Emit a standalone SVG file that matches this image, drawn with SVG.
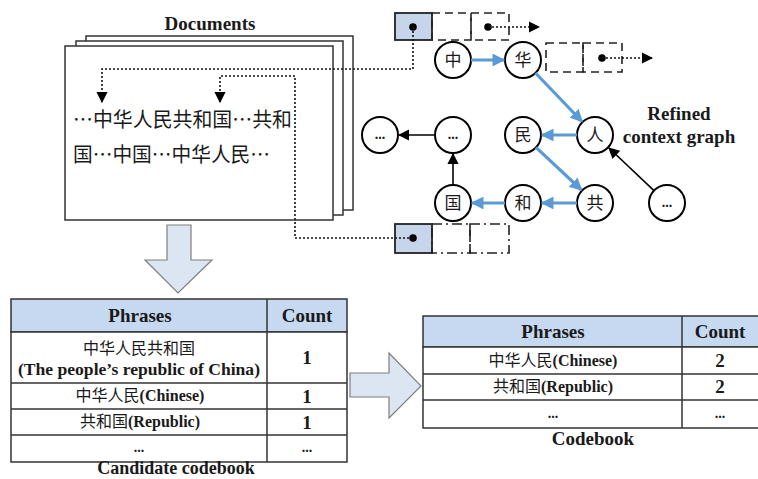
<svg xmlns="http://www.w3.org/2000/svg" width="758" height="479" viewBox="0 0 758 479">
<defs>
<style>
.lat{font-family:"Liberation Serif","Noto Sans CJK SC",serif;font-weight:bold;fill:#1a1a1a}
.cjk{font-family:"Noto Sans CJK SC",sans-serif;font-weight:normal;fill:#1a1a1a}
.page{fill:#fff;stroke:#333;stroke-width:1.5}
.dot{fill:none;stroke:#111;stroke-width:1.6;stroke-dasharray:2 2}
.node circle{fill:#fff;stroke:#000;stroke-width:2}
.blue{stroke:#5b9bd5;stroke-width:3.2;fill:none;marker-end:url(#ab)}
.blk{stroke:#000;stroke-width:1.6;fill:none;marker-end:url(#ak)}
.shade{fill:#c6d5ea;stroke:#222;stroke-width:1.8}
.dash{fill:none;stroke:#222;stroke-width:1.6;stroke-dasharray:8 5}
.dashdot{fill:none;stroke:#222;stroke-width:1.6;stroke-dasharray:10 4 2 4}
.big{fill:#dce6f2;stroke:#7f7f7f;stroke-width:1.2}
.tb{fill:#fff;stroke:#333;stroke-width:1.5}
.th{fill:#c6d9f1;stroke:#333;stroke-width:1.5}
</style>
<marker id="ab" viewBox="0 0 10 10" refX="9" refY="5" markerWidth="4" markerHeight="4" orient="auto" markerUnits="strokeWidth"><path d="M0,0 L10,5 L0,10 z" fill="#5b9bd5"/></marker>
<marker id="ak" viewBox="0 0 10 10" refX="9" refY="5" markerWidth="7" markerHeight="7" orient="auto" markerUnits="strokeWidth"><path d="M0,0 L10,5 L0,10 z" fill="#000"/></marker>
<marker id="ad" viewBox="0 0 10 10" refX="9" refY="5" markerWidth="7" markerHeight="7" orient="auto" markerUnits="strokeWidth"><path d="M0,0 L10,5 L0,10 z" fill="#000"/></marker>
</defs>

<g id="documents">
<text class="lat" x="210" y="30" font-size="19" text-anchor="middle">Documents</text>
<rect class="page" x="86" y="36" width="267" height="174"/>
<rect class="page" x="76" y="41" width="267" height="174"/>
<rect class="page" x="65" y="46" width="268" height="174"/>
<text class="cjk" x="73" y="127" font-size="20" textLength="219" lengthAdjust="spacingAndGlyphs">…中华人民共和国…共和</text>
<text class="cjk" x="73" y="162" font-size="20" textLength="197" lengthAdjust="spacingAndGlyphs">国…中国…中华人民…</text>
</g>

<g id="arrow-down">
<path class="big" d="M167,225 H191 V260 H212 L178,293 L145,260 H167 Z"/>
</g>

<g id="arrow-right">
<path class="big" d="M350,373 H389 V353 L421,386 L389,418 V397 H350 Z"/>
</g>

<g id="list-top">
<rect class="shade" x="395" y="13" width="37" height="27"/>
<rect class="dash" x="432" y="13" width="39" height="27"/>
<rect class="dash" x="471" y="13" width="38" height="27"/>
<circle cx="413" cy="27" r="3.8" fill="#000"/>
<circle cx="488" cy="27" r="3.8" fill="#000"/>
</g>

<g id="list-hua">
<rect class="dash" x="546" y="43" width="37" height="29"/>
<rect class="dash" x="583" y="43" width="39" height="29"/>
<circle cx="602" cy="58" r="3.8" fill="#000"/>
</g>

<g id="list-bottom">
<rect class="shade" x="395" y="224" width="37" height="29"/>
<rect class="dashdot" x="432" y="224" width="38" height="29"/>
<rect class="dashdot" x="470" y="224" width="39" height="29"/>
<circle cx="413" cy="238" r="3.8" fill="#000"/>
</g>

<g id="n-zhong" class="node"><circle cx="453" cy="60" r="18"/><text class="cjk" x="453" y="66" font-size="17" text-anchor="middle">中</text></g>
<g id="n-hua" class="node"><circle cx="523" cy="60" r="18"/><text class="cjk" x="523" y="66" font-size="17" text-anchor="middle">华</text></g>
<g id="n-ren" class="node"><circle cx="595" cy="135" r="18"/><text class="cjk" x="595" y="141" font-size="17" text-anchor="middle">人</text></g>
<g id="n-min" class="node"><circle cx="523" cy="135" r="18"/><text class="cjk" x="523" y="141" font-size="17" text-anchor="middle">民</text></g>
<g id="n-gong" class="node"><circle cx="595" cy="203" r="18"/><text class="cjk" x="595" y="209" font-size="17" text-anchor="middle">共</text></g>
<g id="n-he" class="node"><circle cx="523" cy="203" r="18"/><text class="cjk" x="523" y="209" font-size="17" text-anchor="middle">和</text></g>
<g id="n-guo" class="node"><circle cx="453" cy="203" r="18"/><text class="cjk" x="453" y="209" font-size="17" text-anchor="middle">国</text></g>
<g id="n-e1" class="node"><circle cx="453" cy="135" r="18"/><text class="lat" x="453" y="139" font-size="14" text-anchor="middle">...</text></g>
<g id="n-e2" class="node"><circle cx="380" cy="135" r="18"/><text class="lat" x="380" y="139" font-size="14" text-anchor="middle">...</text></g>
<g id="n-e3" class="node"><circle cx="667" cy="203" r="18"/><text class="lat" x="667" y="207" font-size="14" text-anchor="middle">...</text></g>

<g id="graph-label">
<text class="lat" x="679" y="120" font-size="19" text-anchor="middle">Refined</text>
<text class="lat" x="679" y="143" font-size="19" text-anchor="middle">context graph</text>
</g>

<g id="connectors">
<line class="blue" x1="471" y1="60" x2="504" y2="60"/>
<line class="blue" x1="535.5" y1="73" x2="582" y2="121.5"/>
<line class="blue" x1="577" y1="135" x2="542" y2="135"/>
<line class="blue" x1="536" y1="147.4" x2="581.5" y2="190"/>
<line class="blue" x1="577" y1="203" x2="542" y2="203"/>
<line class="blue" x1="505" y1="203" x2="472" y2="203"/>
<line class="blk" x1="453" y1="185" x2="453" y2="154"/>
<line class="blk" x1="435" y1="135" x2="399" y2="135"/>
<line class="blk" x1="654" y1="190.6" x2="609" y2="148"/>
<path class="dot" d="M413,27 V69 H102 V102" marker-end="url(#ad)"/>
<path class="dot" d="M413,238 H295 V76 H220 V102" marker-end="url(#ad)"/>
<path class="dot" d="M488,27 H539" marker-end="url(#ad)"/>
<path class="dot" d="M602,58 H652" marker-end="url(#ad)"/>
</g>

<g id="candidate-codebook">
<rect class="th" x="11" y="299" width="336" height="33"/>
<rect class="tb" x="11" y="332" width="336" height="130"/>
<line x1="267" y1="299" x2="267" y2="462" stroke="#333" stroke-width="1.5"/>
<line x1="11" y1="383" x2="347" y2="383" stroke="#333" stroke-width="1.5"/>
<line x1="11" y1="409" x2="347" y2="409" stroke="#333" stroke-width="1.5"/>
<line x1="11" y1="435" x2="347" y2="435" stroke="#333" stroke-width="1.5"/>
<text class="lat" x="140" y="322" font-size="19" text-anchor="middle">Phrases</text>
<text class="lat" x="307" y="322" font-size="19" text-anchor="middle">Count</text>
<text class="cjk" x="139" y="354" font-size="16" text-anchor="middle">中华人民共和国</text>
<text class="lat" x="139" y="375" font-size="16" text-anchor="middle" textLength="242" lengthAdjust="spacingAndGlyphs">(The people’s republic of China)</text>
<text class="lat" x="307" y="364" font-size="19" text-anchor="middle">1</text>
<text class="lat" x="140" y="401" font-size="16" text-anchor="middle"><tspan class="cjk">中华人民</tspan>(Chinese)</text>
<text class="lat" x="307" y="403" font-size="19" text-anchor="middle">1</text>
<text class="lat" x="140" y="427" font-size="16" text-anchor="middle"><tspan class="cjk">共和国</tspan>(Republic)</text>
<text class="lat" x="307" y="429" font-size="19" text-anchor="middle">1</text>
<text class="lat" x="139" y="452" font-size="14" text-anchor="middle">...</text>
<text class="lat" x="307" y="452" font-size="14" text-anchor="middle">...</text>
<text class="lat" x="176" y="474" font-size="18" text-anchor="middle">Candidate codebook</text>
</g>

<g id="codebook">
<rect class="th" x="423" y="316" width="340" height="31"/>
<rect class="tb" x="423" y="347" width="340" height="81"/>
<line x1="682" y1="316" x2="682" y2="428" stroke="#333" stroke-width="1.5"/>
<line x1="423" y1="374" x2="763" y2="374" stroke="#333" stroke-width="1.5"/>
<line x1="423" y1="400" x2="763" y2="400" stroke="#333" stroke-width="1.5"/>
<text class="lat" x="553" y="338" font-size="19" text-anchor="middle">Phrases</text>
<text class="lat" x="720" y="338" font-size="19" text-anchor="middle">Count</text>
<text class="lat" x="553" y="366" font-size="16" text-anchor="middle"><tspan class="cjk">中华人民</tspan>(Chinese)</text>
<text class="lat" x="720" y="367" font-size="19" text-anchor="middle">2</text>
<text class="lat" x="553" y="392" font-size="16" text-anchor="middle"><tspan class="cjk">共和国</tspan>(Republic)</text>
<text class="lat" x="720" y="393" font-size="19" text-anchor="middle">2</text>
<text class="lat" x="553" y="418" font-size="14" text-anchor="middle">...</text>
<text class="lat" x="720" y="418" font-size="14" text-anchor="middle">...</text>
<text class="lat" x="593" y="445" font-size="19" text-anchor="middle">Codebook</text>
</g>
</svg>
